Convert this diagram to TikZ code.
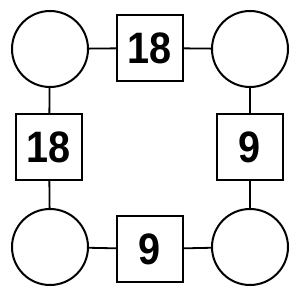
\documentclass[tikz,border=0pt]{standalone}
\usepackage{fontspec}
\setmainfont{Liberation Sans}
\usetikzlibrary{positioning}

\begin{document}
\begin{tikzpicture}[x=1pt, y=-1pt,
  spot/.style={draw, circle, line width=2pt, minimum size=76pt, inner sep=0pt},
  num/.style={draw, line width=2pt, minimum size=66pt, inner sep=0pt, font=\fontsize{44}{44}\selectfont\bfseries},
  link/.style={line width=1.8pt}
]
\useasboundingbox (0,0) rectangle (300,300);

% corner circles
\node[spot] (tl) at (50,49) {};
\node[spot] (tr) at (250,49) {};
\node[spot] (bl) at (50,247) {};
\node[spot] (br) at (250,247) {};

% numbered boxes
\node[num] (top) at (150,48) {\scalebox{0.9}[1]{18}};
\node[num] (left) at (49,147) {\scalebox{0.9}[1]{18}};
\node[num] (right) at (250,147) {\scalebox{0.9}[1]{9}};
\node[num] (bottom) at (150,249) {\scalebox{0.9}[1]{9}};

\draw[link] (tl) -- (top);
\draw[link] (top) -- (tr);
\draw[link] (tl) -- (left);
\draw[link] (left) -- (bl);
\draw[link] (tr) -- (right);
\draw[link] (right) -- (br);
\draw[link] (bl) -- (bottom);
\draw[link] (bottom) -- (br);

\end{tikzpicture}
\end{document}
